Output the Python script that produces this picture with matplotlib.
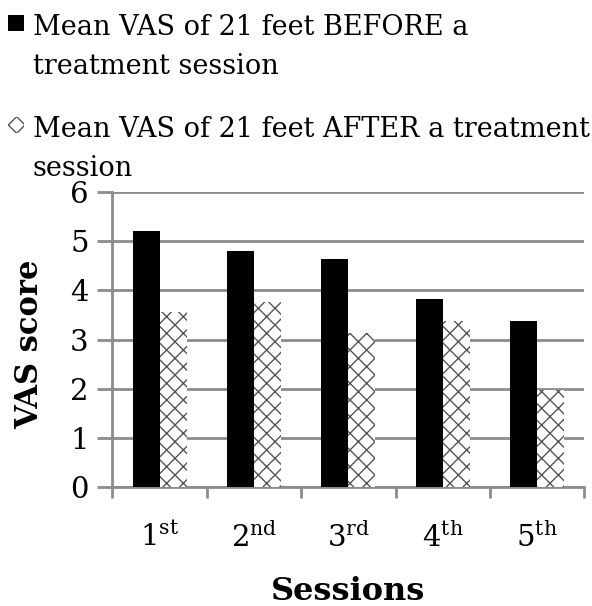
import numpy as np
import matplotlib.pyplot as plt
from matplotlib.patches import Rectangle

plt.rcParams['font.family'] = 'DejaVu Serif'
plt.rcParams['mathtext.fontset'] = 'custom'
plt.rcParams['mathtext.rm'] = 'DejaVu Serif'
plt.rcParams['hatch.linewidth'] = 1.0

# data
sessions = ['1$^{\\rm st}$', '2$^{\\rm nd}$', '3$^{\\rm rd}$', '4$^{\\rm th}$', '5$^{\\rm th}$']
before = [5.2, 4.8, 4.63, 3.83, 3.37]
after = [3.57, 3.77, 3.14, 3.37, 1.97]
lbl_before = 'Mean VAS of 21 feet BEFORE a\ntreatment session'
lbl_after = 'Mean VAS of 21 feet AFTER a treatment\nsession'

grey = '#8c8c8c'
hatch_grey = '#555555'
W, H = 592, 606
fig = plt.figure(figsize=(W / 100, H / 100), dpi=100)
ax = fig.add_axes([0.19, 0.196, 0.797, 0.487])

x = np.arange(len(sessions))
w = 0.286
ax.bar(x - w / 2, before, w, color='black', zorder=3)
ax.bar(x + w / 2, after, w, facecolor='white', hatch='xx', edgecolor=hatch_grey, linewidth=0, zorder=3)

ax.set_xlim(-0.5, 4.5)
ax.set_ylim(0, 6)
ax.set_yticks(range(7))
ax.yaxis.grid(True, color=grey, lw=2)
ax.set_axisbelow(True)
for s in ['top', 'right']:
    ax.spines[s].set_visible(False)
for s in ['left', 'bottom']:
    ax.spines[s].set_color(grey)
    ax.spines[s].set_linewidth(2)

ax.set_xticks(np.arange(-0.5, 5, 1))
ax.set_xticklabels([])
ax.set_xticks(x, minor=True)
ax.set_xticklabels(sessions, minor=True, fontsize=21)
ax.tick_params(axis='x', which='major', length=8, width=2, color=grey)
ax.tick_params(axis='x', which='minor', length=0, pad=25)
ax.tick_params(axis='y', length=11, width=2, color=grey, labelsize=21, pad=6)

ax.set_ylabel('VAS score', fontsize=22, fontweight='bold')
ax.yaxis.set_label_coords(-0.142, 0.485)
ax.set_xlabel('Sessions', fontsize=23, fontweight='bold', labelpad=17)

# legend drawn by hand: handle next to the first line of each wrapped label
def px(xp, yp):
    return xp / W, 1 - yp / H

entries = [(lbl_before, dict(facecolor='black'), 35),
           (lbl_after, dict(facecolor='white', hatch='xx', edgecolor=hatch_grey, lw=0), 137)]
for label, style, base in entries:
    x0, y0 = px(8, base - 4)
    fig.add_artist(Rectangle((x0, y0), 16 / W, 16 / H, transform=fig.transFigure, **style))
    for i, line in enumerate(label.split('\n')):
        tx, ty = px(33, base + 39 * i)
        fig.text(tx, ty, line, fontsize=19.5, va='baseline', ha='left')

fig.savefig('out.png', dpi=100)
